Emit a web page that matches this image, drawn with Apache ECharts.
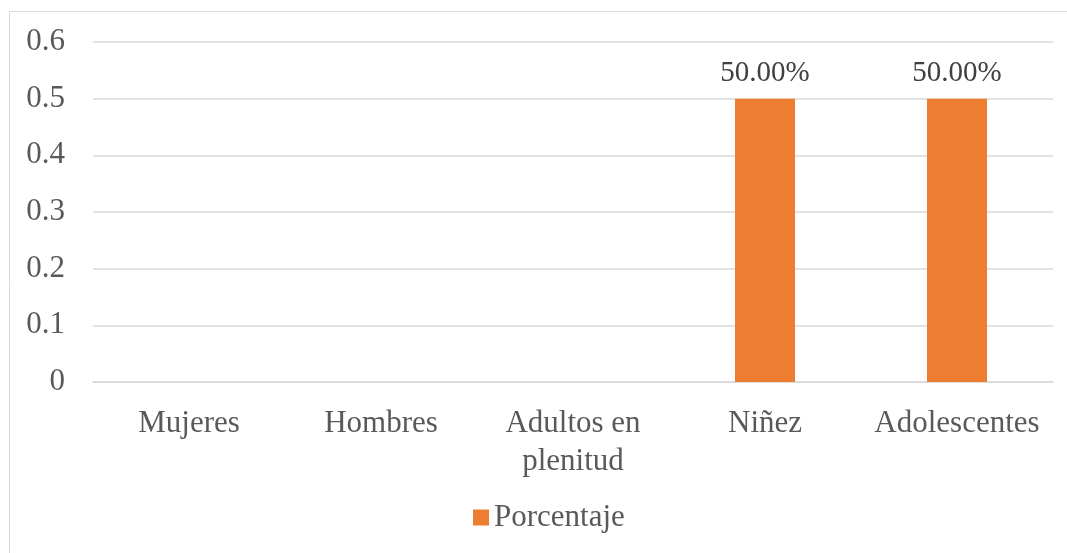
<!DOCTYPE html>
<html><head><meta charset="utf-8">
<script src="https://cdn.jsdelivr.net/npm/echarts@6/dist/echarts.min.js"></script>
<style>html,body{margin:0;padding:0;background:#fff;}#c{width:1067px;height:553px;}</style>
</head><body><div id="c"></div>
<script>
var categories = ['Mujeres', 'Hombres', 'Adultos en\nplenitud', 'Niñez', 'Adolescentes'];
var values = [null, null, null, 0.5, 0.5];
var seriesName = 'Porcentaje';
var chart = echarts.init(document.getElementById('c'));
var font = 'Liberation Serif, Times New Roman, serif';
chart.setOption({
  animation: false,
  graphic: [{type: 'rect', shape: {x: 9.5, y: 11.5, width: 1100, height: 600}, style: {fill: 'none', stroke: '#d9d9d9', lineWidth: 1}, z: -1}],
  grid: {left: 93, right: 14, top: 42, bottom: 171},
  legend: {
    top: 497, left: 468, itemWidth: 16, itemHeight: 16, itemGap: 8,
    textStyle: {fontFamily: font, fontSize: 31, color: '#595959'},
    data: [{name: seriesName, icon: 'rect'}]
  },
  xAxis: {
    type: 'category', data: categories,
    axisLine: {show: true, lineStyle: {color: '#d9d9d9', width: 1.5}},
    axisTick: {show: false},
    axisLabel: {fontFamily: font, fontSize: 31, color: '#595959', margin: 23, lineHeight: 38, interval: 0}
  },
  yAxis: {
    type: 'value', min: 0, max: 0.6, interval: 0.1,
    axisLine: {show: false}, axisTick: {show: false},
    splitLine: {lineStyle: {color: '#d9d9d9', width: 1.5}},
    axisLabel: {fontFamily: font, fontSize: 31, color: '#595959', margin: 28,
      formatter: function(v){ return v === 0 ? '0' : v.toFixed(1); }}
  },
  series: [{
    name: seriesName, type: 'bar', data: values, barWidth: 60,
    itemStyle: {color: '#ed7d31'},
    label: {show: true, position: 'top', distance: 11, fontFamily: font, fontSize: 29, color: '#404040',
      formatter: function(p){ return (p.value * 100).toFixed(2) + '%'; }}
  }]
});
</script></body></html>
